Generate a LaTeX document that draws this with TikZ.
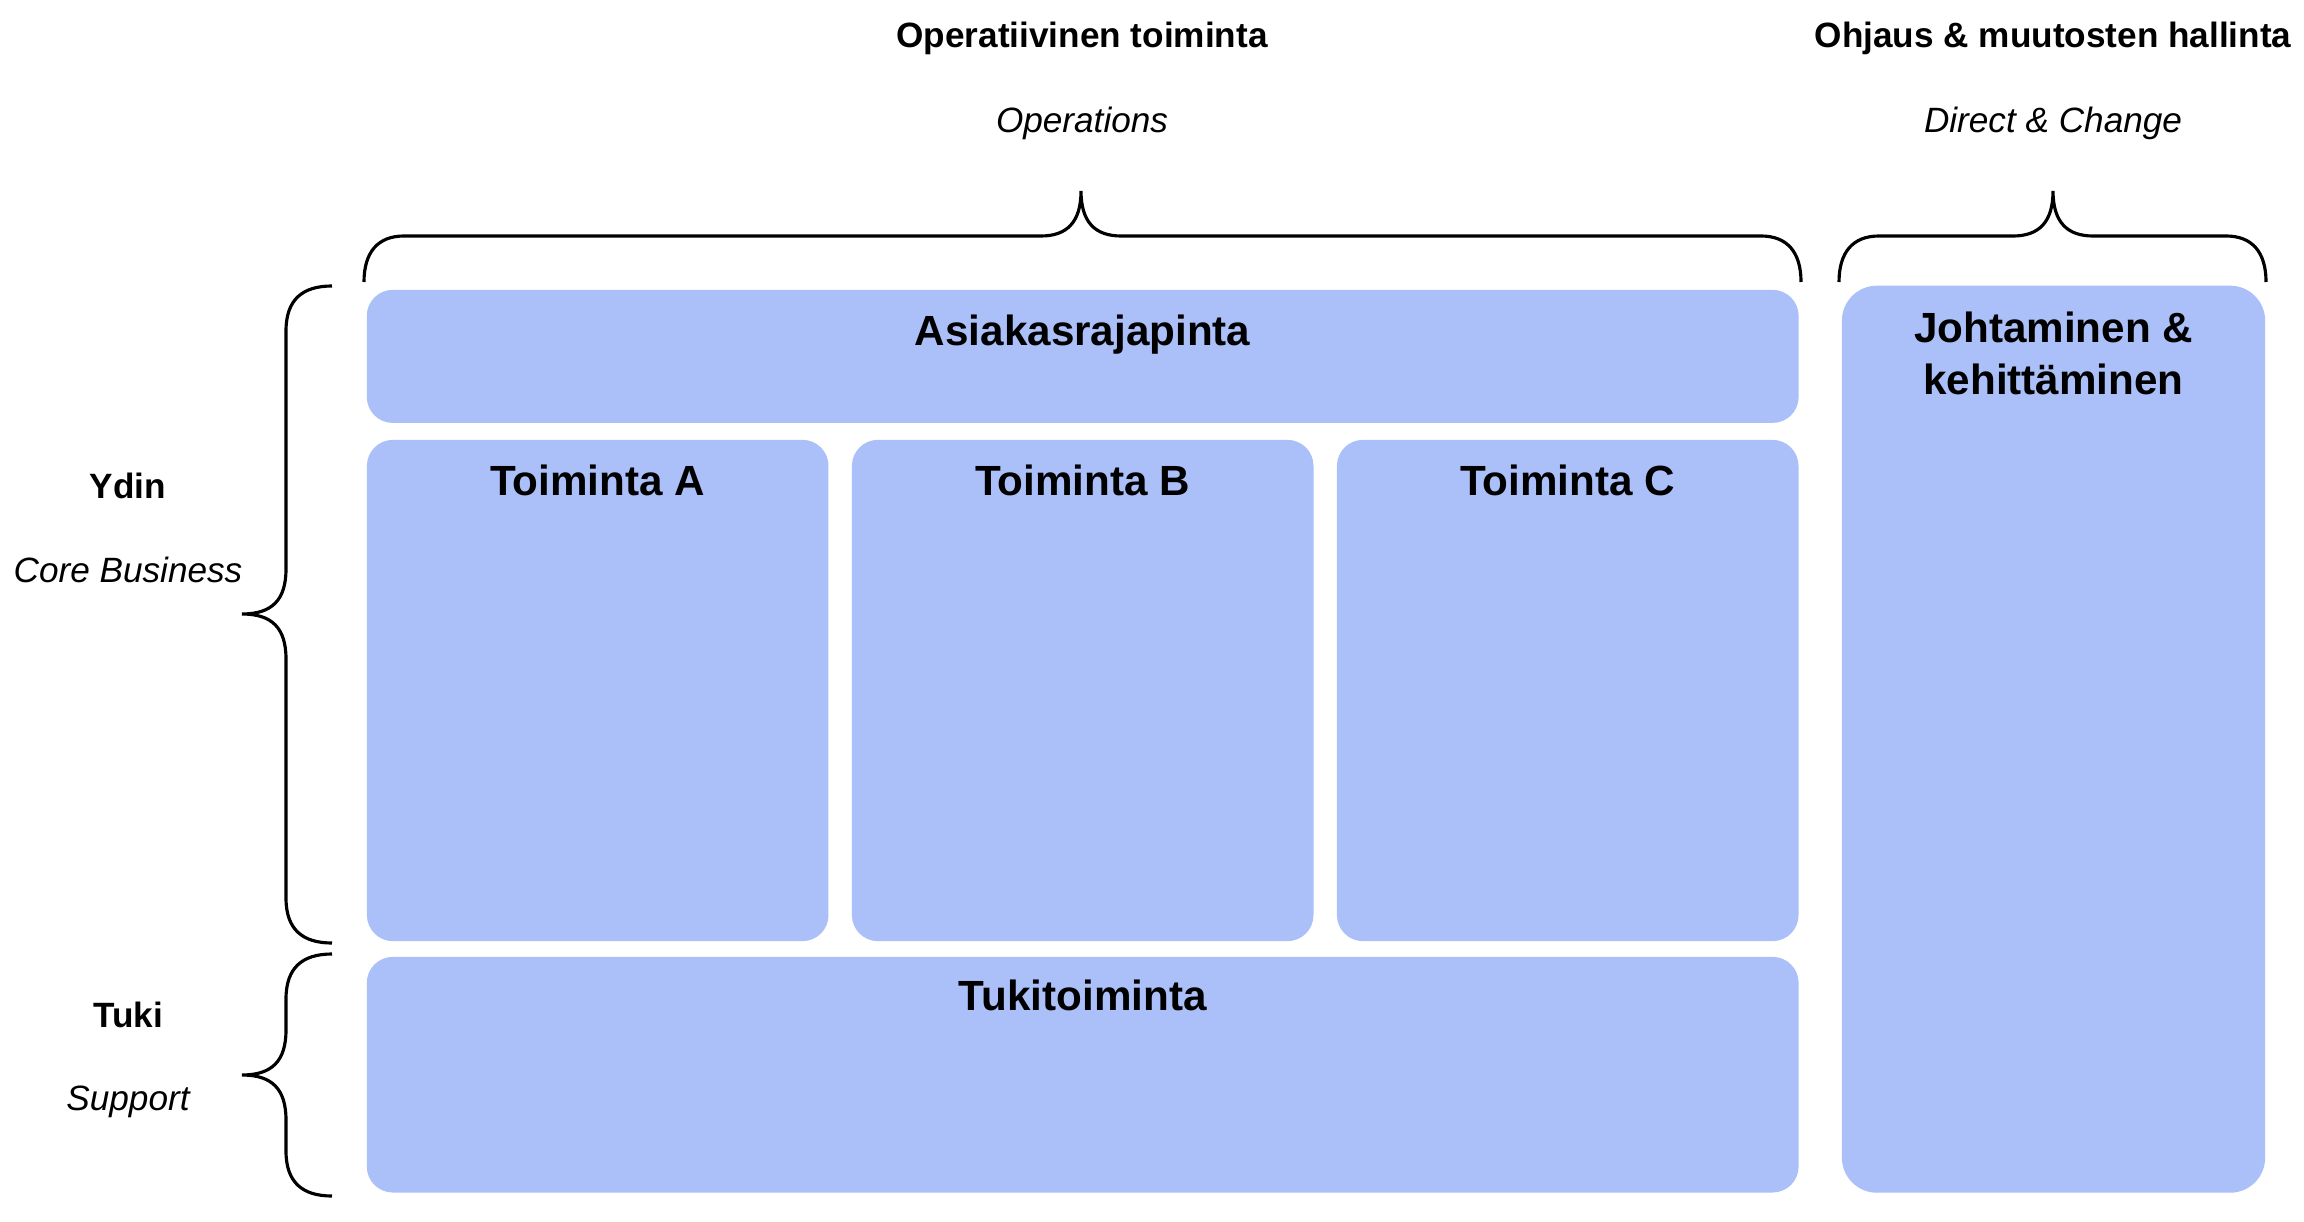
\documentclass[tikz,border=0pt]{standalone}
\usepackage{fontspec}
\setmainfont{Liberation Sans}

\definecolor{boxblue}{HTML}{ABBFF9}

\tikzset{
  box/.style={fill=boxblue, rounded corners=0.26cm, inner sep=0pt},
  boxtitle/.style={font=\fontsize{12}{14.7}\selectfont\bfseries, anchor=base, align=center},
  head/.style={font=\fontsize{10}{12}\selectfont\bfseries, anchor=base},
  subhead/.style={font=\fontsize{10}{12}\selectfont\itshape, anchor=base},
  curly/.style={line width=0.9pt}
}

\begin{document}
\begin{tikzpicture}[x=0.01cm, y=-0.01cm]
\useasboundingbox (0,0) rectangle (2304,1222);

% draw boxes
\node (asiakas) [box, minimum width=14.31cm, minimum height=1.33cm,
  label={[boxtitle, yshift=-0.56cm]north:Asiakasrajapinta}] at (1082.7,356.4) {};
\foreach \name/\x/\t in {toimA/597.7/A, toimB/1082.7/B, toimC/1567.7/C}
\node (\name) [box, minimum width=4.613cm, minimum height=5.01cm,
  label={[boxtitle, yshift=-0.56cm]north:Toiminta \t}] at (\x,690.5) {};
\node (tuki) [box, minimum width=14.31cm, minimum height=2.355cm,
  label={[boxtitle, yshift=-0.54cm]north:Tukitoiminta}] at (1082.7,1074.7) {};
\node (johto) [box, rounded corners=0.35cm, minimum width=4.23cm, minimum height=9.065cm,
  label={[boxtitle, yshift=-1.095cm]north:Johtaminen \&\\kehittäminen}] at (2053.5,739.2) {};

% draw horizontal braces
\foreach \l/\t/\r in {364/1081/1801, 1839/2053/2266}
\draw[curly] (\l,282) .. controls (\l,252) and (\l+14,236) .. (\l+40,236) -- (\t-40,236)
  .. controls (\t-14,236) and (\t,222) .. (\t,191) .. controls (\t,222) and (\t+14,236) .. (\t+40,236)
  -- (\r-40,236) .. controls (\r-14,236) and (\r,252) .. (\r,282);

% draw vertical braces
\foreach \a/\t/\b in {286/614/943, 954/1075/1196}
\draw[curly] (332,\a) .. controls (302,\a) and (286,\a+14) .. (286,\a+45) -- (286,\t-45)
  .. controls (286,\t-14) and (272,\t) .. (242,\t) .. controls (272,\t) and (286,\t+14) .. (286,\t+45)
  -- (286,\b-45) .. controls (286,\b-14) and (302,\b) .. (332,\b);

% draw labels
\node (opfi) [head] at (1082,47.5) {Operatiivinen toiminta};
\node (open) [subhead] at (1082,132.5) {Operations};
\node (ohjfi) [head] at (2053,47.5) {Ohjaus \& muutosten hallinta};
\node (ohjen) [subhead] at (2053,132.5) {Direct \& Change};
\node (ydinfi) [head] at (128,499) {Ydin};
\node (ydinen) [subhead] at (128,583) {Core Business};
\node (tukifi) [head] at (128,1027) {Tuki};
\node (tukien) [subhead] at (128,1110) {Support};

\end{tikzpicture}
\end{document}
